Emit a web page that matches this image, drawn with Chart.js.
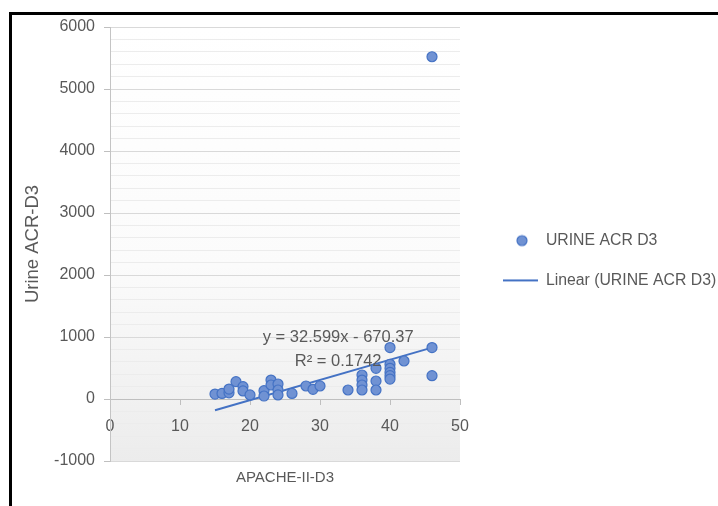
<!DOCTYPE html>
<html>
<head>
<meta charset="utf-8">
<title>Urine ACR D3 vs APACHE-II D3</title>
<script src="https://cdn.jsdelivr.net/npm/chart.js@4.4.1/dist/chart.umd.min.js"></script>
<style>
    html, body { margin: 0; padding: 0; background: #fff; overflow: hidden; }
    #frame { position: absolute; left: 9px; top: 12px; width: 760px; height: 560px; border: 3px solid #000; }
    #acrChart { position: absolute; left: 0; top: 0; }
</style>
</head>
<body>
<div id="frame"></div>
<canvas id="acrChart" width="718" height="506"></canvas>
<script>
// values
const apacheScores = [15, 16, 17, 17, 18, 19, 19, 20, 22, 22, 23, 23, 24, 24, 24, 26, 28, 29, 30,
    34, 36, 36, 36, 36, 38, 38, 38, 40, 40, 40, 40, 40, 40, 42, 46, 46, 46];
const urineAcr = [80, 90, 100, 160, 280, 200, 130, 65, 134, 48, 306, 226, 242, 145, 65, 90, 210, 156, 210,
    145, 387, 306, 226, 145, 495, 290, 145, 830, 560, 495, 430, 376, 322, 613, 5520, 830, 376];

// trendline as printed on the chart
const trendSlope = 32.599;
const trendIntercept = -670.37;
const trendRange = [15, 46];
const equationText = 'y = 32.599x - 670.37';
const r2Text = 'R² = 0.1742';

const xTicks = [0, 10, 20, 30, 40, 50];
const yTickLabels = [-1000, 0, 1000, 2000, 3000, 4000, 5000, 6000];

const BLUE = '#4472C4';
const DOT_FILL = '#7092d3';
const TEXT = '#595959';
const FONT = '"Liberation Sans", Arial, sans-serif';

const points = apacheScores.map((x, i) => ({ x: x, y: urineAcr[i] }));
const trendPoints = trendRange.map(x => ({ x: x, y: trendSlope * x + trendIntercept }));

// little legend glyphs (left part left blank so glyphs sit where Excel puts them)
function makeIcon(kind) {
    const c = document.createElement('canvas');
    c.width = 54; c.height = 14;
    const g = c.getContext('2d');
    if (kind === 'dot') {
        g.beginPath();
        g.arc(38, 7, 5, 0, Math.PI * 2);
        g.fillStyle = DOT_FILL;
        g.fill();
        g.lineWidth = 1.2;
        g.strokeStyle = BLUE;
        g.stroke();
    } else {
        g.fillStyle = BLUE;
        g.fillRect(19, 6, 35, 2);
    }
    return c;
}
const dotIcon = makeIcon('dot');
const lineIcon = makeIcon('line');

const plotBackground = {
    id: 'plotBackground',
    beforeDraw(chart) {
        const { ctx, chartArea: a } = chart;
        const grad = ctx.createLinearGradient(0, a.top, 0, a.bottom);
        grad.addColorStop(0, '#ffffff');
        grad.addColorStop(0.55, '#fbfbfb');
        grad.addColorStop(1, '#ececec');
        ctx.save();
        ctx.fillStyle = grad;
        ctx.fillRect(a.left, a.top, a.right - a.left, a.bottom - a.top);
        ctx.restore();
    }
};

// the legend box is kept narrow so the plot keeps its width; let it run to the canvas edge
const widenLegend = {
    id: 'widenLegend',
    afterLayout(chart) {
        const lg = chart.legend;
        if (lg) {
            lg.right = chart.width;
            lg.width = lg.right - lg.left;
        }
    }
};

const trendLabel = {
    id: 'trendLabel',
    afterDatasetsDraw(chart) {
        const { ctx, scales: { x, y } } = chart;
        ctx.save();
        ctx.font = '16.5px ' + FONT;
        ctx.fillStyle = TEXT;
        ctx.textAlign = 'center';
        ctx.textBaseline = 'middle';
        ctx.fillText(equationText, x.getPixelForValue(32.6), y.getPixelForValue(1000));
        ctx.fillText(r2Text, x.getPixelForValue(32.6), y.getPixelForValue(600));
        ctx.restore();
    }
};

const ctx = document.getElementById('acrChart').getContext('2d');

const acrChart = new Chart(ctx, {
    type: 'scatter',
    data: {
        datasets: [{
            label: 'URINE ACR D3',
            data: points,
            backgroundColor: DOT_FILL,
            borderColor: BLUE,
            borderWidth: 1.2,
            pointRadius: 5
        }, {
            type: 'line',
            label: 'Linear (URINE ACR D3)',
            data: trendPoints,
            borderColor: BLUE,
            borderWidth: 2,
            pointRadius: 0,
            fill: false
        }]
    },
    options: {
        responsive: false,
        animation: false,
        events: [],
        layout: { padding: { left: 0, top: 27, right: 108, bottom: 45 } },
        scales: {
            x: {
                type: 'linear',
                position: { y: 0 },
                min: 0,
                max: 50,
                afterBuildTicks: scale => { scale.ticks = xTicks.map(v => ({ value: v })); },
                grid: { drawOnChartArea: false, tickLength: 5, color: '#bfbfbf' },
                border: { color: '#bfbfbf' },
                ticks: { color: TEXT, font: { family: FONT, size: 16 }, padding: 13, maxRotation: 0 },
                title: {
                    display: true,
                    text: 'APACHE-II-D3',
                    color: TEXT,
                    font: { family: FONT, size: 15 },
                    padding: { top: 20, bottom: 0 }
                }
            },
            y: {
                min: -1000,
                max: 6000,
                afterFit: scale => { scale.width = 110; },
                grid: {
                    tickLength: 6,
                    color: c => c.tick && c.tick.value % 1000 === 0 ? '#d9d9d9' : '#ececec',
                    tickColor: c => c.tick && c.tick.value % 1000 === 0 ? '#bfbfbf' : 'rgba(0,0,0,0)'
                },
                border: { color: '#c4c4c4' },
                ticks: {
                    stepSize: 200,
                    autoSkip: false,
                    padding: 9,
                    color: TEXT,
                    font: { family: FONT, size: 16 },
                    callback: v => yTickLabels.includes(v) ? String(v) : ''
                },
                title: {
                    display: true,
                    text: 'Urine ACR-D3',
                    color: TEXT,
                    font: { family: FONT, size: 18.5 },
                    padding: { top: 22, bottom: 0 }
                }
            }
        },
        plugins: {
            tooltip: { enabled: false },
            legend: {
                position: 'right',
                maxWidth: 150,
                title: { display: true, text: ' ', font: { size: 10 }, padding: 10.5 },
                labels: {
                    usePointStyle: true,
                    pointStyleWidth: 54,
                    padding: 24,
                    color: TEXT,
                    font: { family: FONT, size: 15.8 },
                    generateLabels: chart => {
                        const items = Chart.defaults.plugins.legend.labels.generateLabels(chart);
                        items[0].pointStyle = dotIcon;
                        items[1].pointStyle = lineIcon;
                        return items;
                    }
                }
            }
        }
    },
    plugins: [plotBackground, widenLegend, trendLabel]
});
</script>
</body>
</html>
